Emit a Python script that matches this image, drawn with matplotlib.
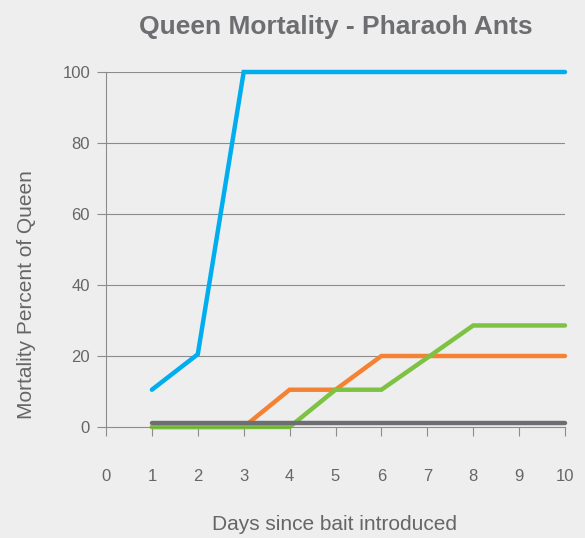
import matplotlib
matplotlib.use("Agg")
import matplotlib.pyplot as plt

plt.rcParams['font.family'] = ['Liberation Sans', 'DejaVu Sans']

days = [1, 2, 3, 4, 5, 6, 7, 8, 9, 10]
blue = [10.5, 20.5, 100, 100, 100, 100, 100, 100, 100, 100]
orange = [0, 0, 0, 10.5, 10.5, 20, 20, 20, 20, 20]
green = [0, 0, 0, 0, 10.5, 10.5, 19.5, 28.6, 28.6, 28.6]
gray = [1.2, 1.2, 1.2, 1.2, 1.2, 1.2, 1.2, 1.2, 1.2, 1.2]

x_ticks = [0, 1, 2, 3, 4, 5, 6, 7, 8, 9, 10]
y_ticks = [0, 20, 40, 60, 80, 100]

bg = '#eeeeee'
txt = '#666666'
axc = '#8c8c8c'

fig = plt.figure(figsize=(5.85, 5.38), dpi=100, facecolor=bg)
ax = fig.add_axes([106/585, 1-427/538, (565-106)/585, (427-72)/538])
ax.set_facecolor(bg)

series = [(blue, '#00aeef'), (orange, '#f58233'), (green, '#7dc242'), (gray, '#6d6e71')]
for vals, c in series:
    ax.plot(days, vals, color=c, lw=3.2, solid_capstyle='round', solid_joinstyle='miter', clip_on=False)

ax.set_xlim(0, 10)
ax.set_ylim(0, 100)
ax.set_xticks(x_ticks)
ax.set_yticks(y_ticks)
ax.set_xticklabels([str(v) for v in x_ticks])
ax.set_yticklabels([str(v) for v in y_ticks])
for y in y_ticks[1:]:
    ax.axhline(y, color=axc, lw=0.8, zorder=0)
for s in ['top', 'right']:
    ax.spines[s].set_visible(False)
for s in ['left', 'bottom']:
    ax.spines[s].set_color(axc)
    ax.spines[s].set_linewidth(0.8)
ax.tick_params(axis='x', direction='out', length=6.5, width=0.8, color=axc, pad=24, labelsize=12, labelcolor=txt)
ax.tick_params(axis='y', direction='out', length=6.5, width=0.8, color=axc, pad=5, labelsize=12, labelcolor=txt)

fig.text(336/585, 1-27/538, 'Queen Mortality - Pharaoh Ants', ha='center', va='center',
         fontsize=19, fontweight='bold', color='#6d6e71')
fig.text(27/585, 1-295/538, 'Mortality Percent of Queen', ha='center', va='center',
         rotation=90, fontsize=15, color=txt)
fig.text(335/585, 1-525/538, 'Days since bait introduced', ha='center', va='center',
         fontsize=15, color=txt)

fig.savefig('out.png', dpi=100, facecolor=bg)
